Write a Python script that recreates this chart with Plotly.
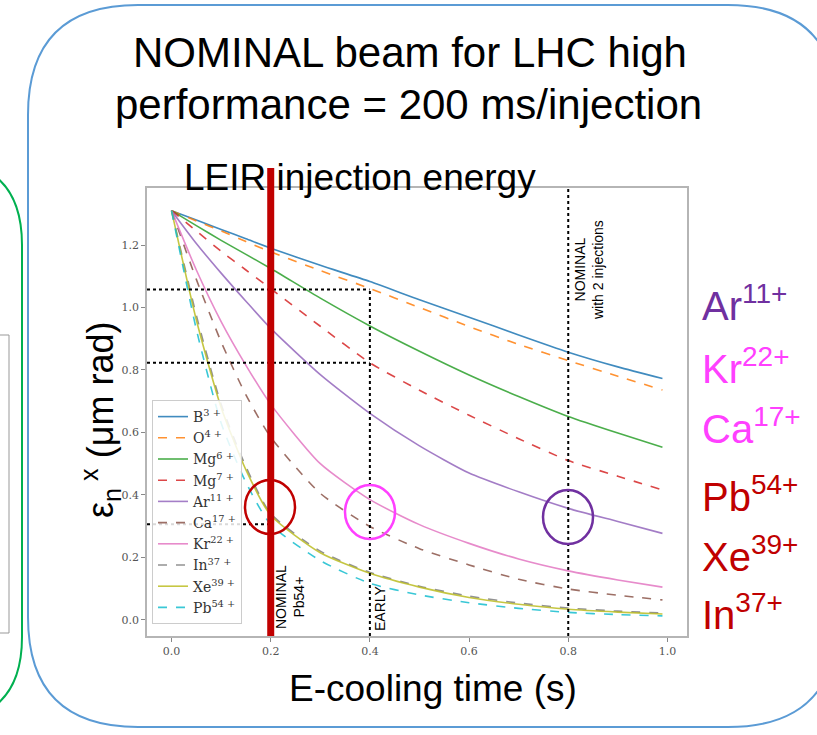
import plotly.graph_objects as go

# ---------------- data ----------------
t = [0, 0.05, 0.1, 0.15, 0.2, 0.3, 0.4, 0.5, 0.6, 0.7, 0.8, 0.9, 0.99]
B3 = [1.31, 1.28, 1.25, 1.22, 1.19, 1.135, 1.083, 1.025, 0.969, 0.912, 0.857, 0.81, 0.773]
O4 = [1.31, 1.277, 1.245, 1.211, 1.178, 1.118, 1.061, 1.0, 0.939, 0.882, 0.83, 0.78, 0.736]
Mg6 = [1.31, 1.262, 1.215, 1.17, 1.125, 1.03, 0.941, 0.86, 0.784, 0.715, 0.651, 0.598, 0.553]
Mg7 = [1.31, 1.245, 1.18, 1.12, 1.06, 0.94, 0.823, 0.735, 0.655, 0.58, 0.51, 0.46, 0.416]
Ar11 = [1.31, 1.205, 1.11, 1.02, 0.933, 0.785, 0.661, 0.557, 0.47, 0.41, 0.357, 0.315, 0.277]
Ca17 = [1.31, 1.09, 0.89, 0.72, 0.585, 0.405, 0.299, 0.228, 0.176, 0.13, 0.099, 0.079, 0.064]
Kr22 = [1.31, 1.12, 0.955, 0.815, 0.69, 0.50, 0.385, 0.305, 0.245, 0.195, 0.157, 0.128, 0.105]
In37 = [1.31, 0.975, 0.69, 0.49, 0.34, 0.22, 0.152, 0.108, 0.076, 0.054, 0.038, 0.028, 0.022]
Xe39 = [1.31, 0.96, 0.68, 0.48, 0.335, 0.215, 0.149, 0.105, 0.072, 0.05, 0.034, 0.025, 0.019]
Pb54 = [1.31, 0.93, 0.63, 0.44, 0.305, 0.19, 0.117, 0.08, 0.055, 0.037, 0.024, 0.017, 0.013]

series_names = ["B<sup>3 +</sup>", "O<sup>4 +</sup>", "Mg<sup>6 +</sup>", "Mg<sup>7 +</sup>",
                "Ar<sup>11 +</sup>", "Ca<sup>17 +</sup>", "Kr<sup>22 +</sup>", "In<sup>37 +</sup>",
                "Xe<sup>39 +</sup>", "Pb<sup>54 +</sup>"]
series_values = [B3, O4, Mg6, Mg7, Ar11, Ca17, Kr22, In37, Xe39, Pb54]

x_ticks = [0.0, 0.2, 0.4, 0.6, 0.8, 1.0]
y_ticks = [0.0, 0.2, 0.4, 0.6, 0.8, 1.0, 1.2]

# marked times / levels
t_nominal = 0.2
t_early = 0.4
t_nominal2 = 0.8
level_hi = 1.058
level_mid = 0.823
level_lo = 0.306

right_labels = [("Ar", "11+", "#7030A0"), ("Kr", "22+", "#FF40FF"), ("Ca", "17+", "#FF40FF"),
                ("Pb", "54+", "#C00000"), ("Xe", "39+", "#C00000"), ("In", "37+", "#C00000")]

# ---------------- style ----------------
colors = ["#1f77b4", "#ff7f0e", "#2ca02c", "#d62728", "#9467bd",
          "#8c564b", "#e377c2", "#7f7f7f", "#bcbd22", "#17becf"]
dashes = ["solid", "dash", "solid", "dash", "solid", "dash", "solid", "dash", "solid", "dash"]

W, H = 817, 735
L, R, T, B = 147, 687, 188, 636


def px(X):
    return (X - L) / (R - L)


def py(Y):
    return (B - Y) / (B - T)


def xdata_px(v):
    return 171 + v * 496.5


fig = go.Figure()
for name, vals, c, d in zip(series_names, series_values, colors, dashes):
    fig.add_trace(go.Scatter(x=t, y=vals, name=name, mode="lines",
                             line=dict(color=c, width=1.6, dash=d, shape="spline", smoothing=0.6),
                             opacity=0.85))

shapes = []
dot = dict(color="black", width=2, dash="dot")
shapes.append(dict(type="line", xref="paper", yref="y", x0=0, x1=px(xdata_px(t_early)),
                   y0=level_hi, y1=level_hi, line=dot, layer="above"))
shapes.append(dict(type="line", xref="paper", yref="y", x0=0, x1=px(xdata_px(t_early)),
                   y0=level_mid, y1=level_mid, line=dot, layer="above"))
shapes.append(dict(type="line", xref="paper", yref="y", x0=0, x1=px(xdata_px(t_nominal)),
                   y0=level_lo, y1=level_lo, line=dot, layer="above"))
shapes.append(dict(type="line", xref="x", yref="paper", x0=t_early, x1=t_early,
                   y0=0, y1=py(289), line=dot, layer="above"))
shapes.append(dict(type="line", xref="x", yref="paper", x0=t_nominal2, x1=t_nominal2,
                   y0=0, y1=1, line=dot, layer="above"))
shapes.append(dict(type="line", xref="x", yref="paper", x0=t_nominal, x1=t_nominal,
                   y0=0, y1=py(168), line=dict(color="#C00000", width=7), layer="above"))
for cx, cy, col in [(270, 507, "#C00000"), (370, 512, "#FF40FF"), (568, 517, "#7030A0")]:
    shapes.append(dict(type="circle", xref="paper", yref="paper",
                       x0=px(cx - 25), x1=px(cx + 25), y0=py(cy + 27), y1=py(cy - 27),
                       line=dict(color=col, width=2.5), layer="above"))


def rounded_path(x0, y0, x1, y1, r):
    def P(X, Y):
        return f"{px(X):.5f},{py(Y):.5f}"
    return (f"M {P(x0 + r, y0)} L {P(x1 - r, y0)} "
            f"Q {P(x1, y0)} {P(x1, y0 + r)} L {P(x1, y1 - r)} "
            f"Q {P(x1, y1)} {P(x1 - r, y1)} L {P(x0 + r, y1)} "
            f"Q {P(x0, y1)} {P(x0, y1 - r)} L {P(x0, y0 + r)} "
            f"Q {P(x0, y0)} {P(x0 + r, y0)} Z")


shapes.append(dict(type="path", xref="paper", yref="paper",
                   path=rounded_path(28, 5, 838, 727, 110),
                   line=dict(color="#5B9BD5", width=2), layer="below"))
shapes.append(dict(type="path", xref="paper", yref="paper",
                   path=rounded_path(-250, 160, 22, 722, 85),
                   line=dict(color="#00B050", width=2), layer="below"))
shapes.append(dict(type="rect", xref="paper", yref="paper",
                   x0=px(-20), x1=px(9), y0=py(633), y1=py(335),
                   line=dict(color="#999999", width=1), layer="below"))

annotations = []
sans = "Liberation Sans, Arial, sans-serif"


def ann(text, X, Y, size, color="black", angle=0, xanchor="center"):
    annotations.append(dict(text=text, x=px(X), y=py(Y), xref="paper", yref="paper",
                            showarrow=False, textangle=angle,
                            font=dict(family=sans, size=size, color=color),
                            xanchor=xanchor, yanchor="middle"))


ann("NOMINAL beam for LHC high", 410, 52, 42)
ann("performance = 200 ms/injection", 408, 105, 42)
ann("LEIR injection energy", 360, 177, 37)
ann("ε<sub>n</sub><sup> x</sup> (μm rad)", 100, 420, 36, angle=-90)
ann("E-cooling time (s)", 433, 688, 37)
ann("NOMINAL<br>Pb54+", 290, 597, 14, angle=-90)
ann("EARLY", 380, 608, 14, angle=-90)
ann("NOMINAL<br>with 2 injections", 589, 270, 14, angle=-90)
label_y = [303, 366, 426, 494, 554, 612]
for (el, ch, col), yy in zip(right_labels, label_y):
    ann(f"{el}<sup>{ch}</sup>", 700, yy, 40, color=col, xanchor="left")

serif = "DejaVu Serif, serif"
fig.update_layout(
    width=W, height=H,
    margin=dict(l=L, r=W - R, t=T, b=H - B, pad=0),
    paper_bgcolor="white", plot_bgcolor="white",
    shapes=shapes, annotations=annotations,
    showlegend=True,
    legend=dict(x=px(152), y=py(400), xanchor="left", yanchor="top",
                bgcolor="rgba(255,255,255,0.85)", bordercolor="#cccccc", borderwidth=1,
                font=dict(family=serif, size=14, color="#333333"), itemwidth=30,
                tracegroupgap=0),
    xaxis=dict(range=[-0.0495, 1.0395], tickvals=x_ticks, ticktext=[f"{v:.1f}" for v in x_ticks],
               showgrid=False, zeroline=False, showline=True, mirror=True, linecolor="#b5b5b5",
               linewidth=1.5, ticks="outside", ticklen=4, tickcolor="#888888",
               tickfont=dict(family=serif, size=11, color="#555555")),
    yaxis=dict(range=[-0.0515, 1.3825], tickvals=y_ticks, ticktext=[f"{v:.1f}" for v in y_ticks],
               showgrid=False, zeroline=False, showline=True, mirror=True, linecolor="#b5b5b5",
               linewidth=1.5, ticks="outside", ticklen=4, tickcolor="#888888",
               tickfont=dict(family=serif, size=11, color="#555555")),
)

fig.write_html("out.html", config={"displayModeBar": False},
               post_script="document.body.style.margin='0';document.body.style.overflow='hidden';")
